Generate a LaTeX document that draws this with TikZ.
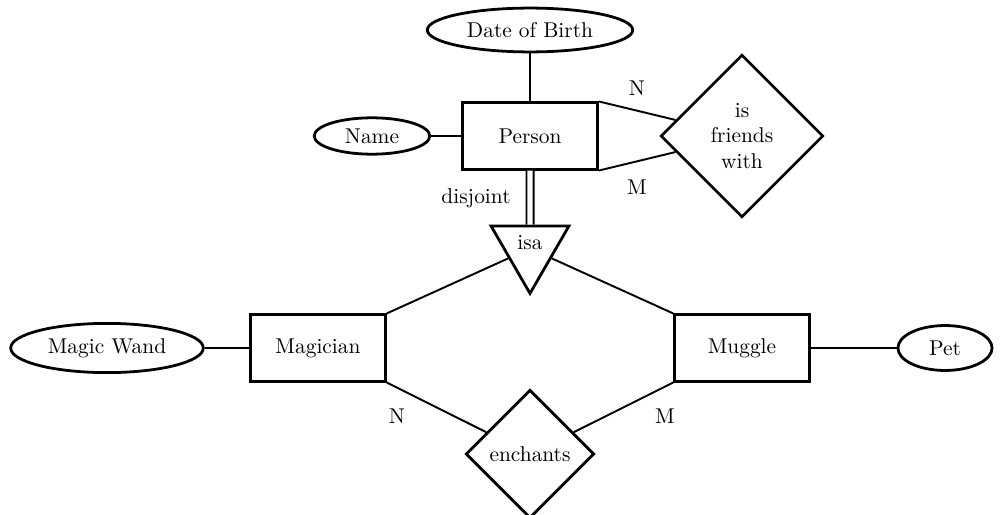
\documentclass[tikz,border=0pt]{standalone}
\usetikzlibrary{shapes.geometric}
\begin{document}
\begin{tikzpicture}[x=0.4673pt,y=-0.4673pt,
 entity/.style={draw, line width=1.3pt, minimum width=63pt, minimum height=31pt, inner sep=0pt},
 attr/.style={draw, ellipse, line width=1.3pt, inner sep=0pt},
 rel/.style={draw, diamond, line width=1.3pt, inner sep=0pt, align=center},
 isabox/.style={draw, regular polygon, regular polygon sides=3, shape border rotate=180, minimum size=42pt, inner sep=0pt, line width=1.3pt, text depth=5.2pt},
 conn/.style={line width=0.9pt},
 card/.style={inner sep=0pt}]
\useasboundingbox (0,0) rectangle (1001,515);
% nodes
\node[attr, minimum width=96pt, minimum height=20.5pt] (dob) at (530,30) {Date of Birth};
\node[entity] (person) at (530,136) {Person};
\node[attr, minimum width=54pt, minimum height=17pt] (name) at (372,136) {Name};
\node[rel, minimum width=76pt, minimum height=76pt] (friends) at (742,136) {is\\friends\\with};
\node[isabox] (isa) at (530,248.5) {isa};
\node[entity] (magician) at (318,348) {Magician};
\node[entity] (muggle) at (742,348) {Muggle};
\node[attr, minimum width=90pt, minimum height=23pt] (wand) at (107,348) {Magic Wand};
\node[attr, minimum width=44pt, minimum height=21pt] (pet) at (945,348) {Pet};
\node[rel, minimum width=60pt, minimum height=60pt] (ench) at (530,454) {enchants};
% labels
\node[card] (n1) at (637,88) {N};
\node[card] (m1) at (637,187) {M};
\node[card] (dj) at (476,198) {disjoint};
\node[card] (n2) at (397,416) {N};
\node[card] (m2) at (665,416) {M};
% connectors
\draw[conn] (dob) -- (person);
\draw[conn] (name) -- (person);
\draw[conn] (person.north east) -- (friends);
\draw[conn] (person.south east) -- (friends);
\draw[conn, double, double distance=2.4pt] (person) -- (isa);
\draw[conn] (magician.north east) -- (isa);
\draw[conn] (muggle.north west) -- (isa);
\draw[conn] (magician.south east) -- (ench);
\draw[conn] (muggle.south west) -- (ench);
\draw[conn] (wand) -- (magician);
\draw[conn] (muggle) -- (pet);
\end{tikzpicture}
\end{document}
